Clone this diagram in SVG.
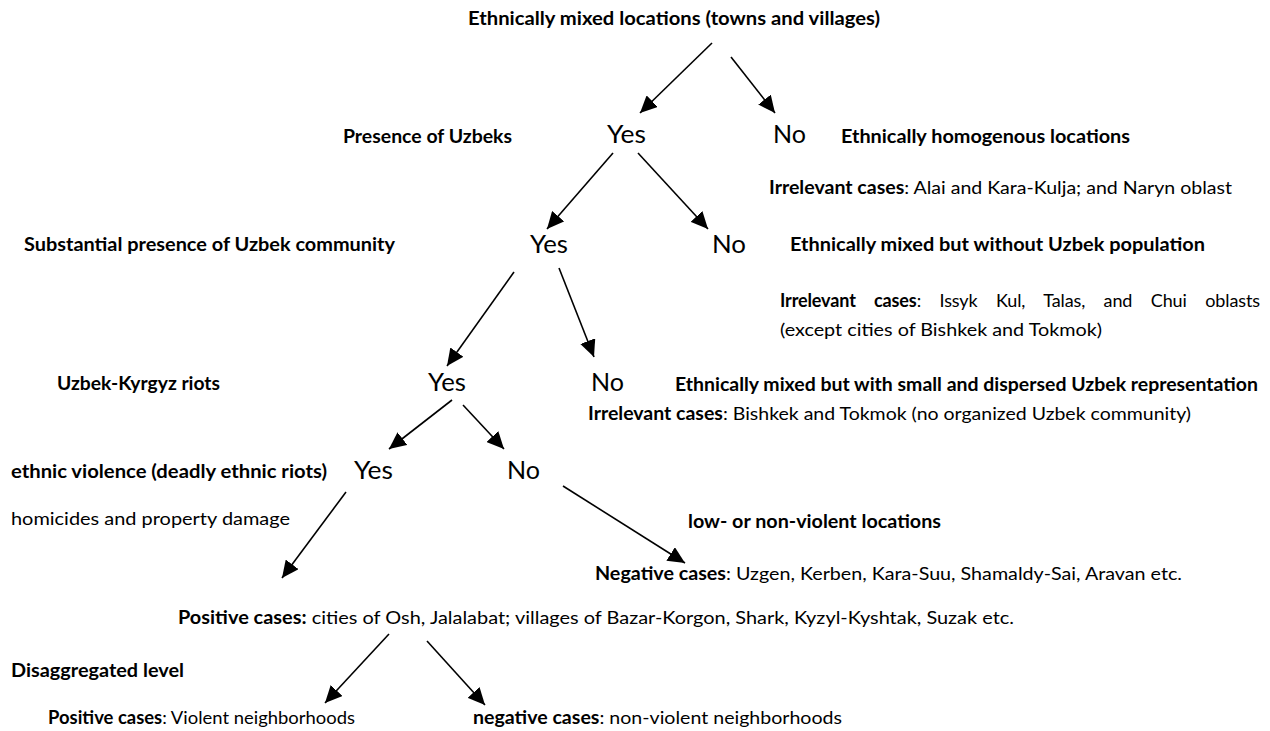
<svg xmlns="http://www.w3.org/2000/svg" width="1270" height="731" viewBox="0 0 1270 731">
<defs>
<marker id="ah" markerUnits="userSpaceOnUse" markerWidth="18" markerHeight="16" refX="17" refY="8" orient="auto">
<path d="M0,0 L17,8 L0,16 z" fill="#000"/>
</marker>
<style>
text{font-family:Lato,"Liberation Sans",sans-serif;fill:#000;font-size:18px}
.b{font-weight:bold}
.yn{font-size:25px}
.just{word-spacing:14px}
line{stroke:#000;stroke-width:1.6;marker-end:url(#ah)}
</style>
</defs>
<rect width="1270" height="731" fill="#fff"/>
<g id="connectors">
<line x1="712" y1="43" x2="640" y2="113"/>
<line x1="731" y1="57" x2="775" y2="113"/>
<line x1="613" y1="153" x2="547" y2="229"/>
<line x1="638" y1="153" x2="708" y2="229"/>
<line x1="514" y1="272" x2="447" y2="366"/>
<line x1="559" y1="268" x2="594" y2="357"/>
<line x1="452" y1="400" x2="389" y2="449"/>
<line x1="463" y1="405" x2="504" y2="449"/>
<line x1="563" y1="486" x2="685" y2="563"/>
<line x1="346" y1="492" x2="282" y2="578"/>
<line x1="389" y1="634" x2="325" y2="703"/>
<line x1="427" y1="641" x2="485" y2="705"/>
</g>
<g id="n-top"><text class="b" x="468" y="25" textLength="412" lengthAdjust="spacingAndGlyphs">Ethnically mixed locations (towns and villages)</text></g>
<g id="n-presence"><text class="b" x="343" y="143" textLength="169" lengthAdjust="spacingAndGlyphs">Presence of Uzbeks</text></g>
<g id="n-yes1"><text class="yn" x="607" y="143" textLength="39" lengthAdjust="spacingAndGlyphs">Yes</text></g>
<g id="n-no1"><text class="yn" x="773" y="143" textLength="33" lengthAdjust="spacingAndGlyphs">No</text></g>
<g id="n-homog"><text class="b" x="841" y="143" textLength="289" lengthAdjust="spacingAndGlyphs">Ethnically homogenous locations</text></g>
<g id="n-irr1"><text x="769" y="194" textLength="463" lengthAdjust="spacingAndGlyphs"><tspan class="b">Irrelevant cases</tspan>: Alai and Kara-Kulja; and Naryn oblast</text></g>
<g id="n-subst"><text class="b" x="24" y="251" textLength="371" lengthAdjust="spacingAndGlyphs">Substantial presence of Uzbek community</text></g>
<g id="n-yes2"><text class="yn" x="530" y="253" textLength="38" lengthAdjust="spacingAndGlyphs">Yes</text></g>
<g id="n-no2"><text class="yn" x="712" y="253" textLength="34" lengthAdjust="spacingAndGlyphs">No</text></g>
<g id="n-mixed1"><text class="b" x="790" y="251" textLength="415" lengthAdjust="spacingAndGlyphs">Ethnically mixed but without Uzbek population</text></g>
<g id="n-irr2">
<text class="just" x="780" y="307" textLength="480" lengthAdjust="spacing"><tspan class="b">Irrelevant cases</tspan>: Issyk Kul, Talas, and Chui oblasts</text>
<text x="780" y="336" textLength="322" lengthAdjust="spacingAndGlyphs">(except cities of Bishkek and Tokmok)</text>
</g>
<g id="n-riots"><text class="b" x="57" y="390" textLength="163" lengthAdjust="spacingAndGlyphs">Uzbek-Kyrgyz riots</text></g>
<g id="n-yes3"><text class="yn" x="428" y="391" textLength="38" lengthAdjust="spacingAndGlyphs">Yes</text></g>
<g id="n-no3"><text class="yn" x="591" y="391" textLength="33" lengthAdjust="spacingAndGlyphs">No</text></g>
<g id="n-mixed2"><text class="b" x="675" y="391" textLength="583" lengthAdjust="spacingAndGlyphs">Ethnically mixed but with small and dispersed Uzbek representation</text></g>
<g id="n-irr3"><text x="588" y="420" textLength="603" lengthAdjust="spacingAndGlyphs"><tspan class="b">Irrelevant cases</tspan>: Bishkek and Tokmok (no organized Uzbek community)</text></g>
<g id="n-violence"><text class="b" x="11" y="478" textLength="316" lengthAdjust="spacingAndGlyphs">ethnic violence (deadly ethnic riots)</text></g>
<g id="n-yes4"><text class="yn" x="354" y="479" textLength="39" lengthAdjust="spacingAndGlyphs">Yes</text></g>
<g id="n-no4"><text class="yn" x="507" y="479" textLength="33" lengthAdjust="spacingAndGlyphs">No</text></g>
<g id="n-homicides"><text x="11" y="525" textLength="279" lengthAdjust="spacingAndGlyphs">homicides and property damage</text></g>
<g id="n-lowviol"><text class="b" x="688" y="528" textLength="253" lengthAdjust="spacingAndGlyphs">low- or non-violent locations</text></g>
<g id="n-negative"><text x="595" y="580" textLength="587" lengthAdjust="spacingAndGlyphs"><tspan class="b">Negative cases</tspan>: Uzgen, Kerben, Kara-Suu, Shamaldy-Sai, Aravan etc.</text></g>
<g id="n-positive"><text x="178" y="624" textLength="836" lengthAdjust="spacingAndGlyphs"><tspan class="b">Positive cases:</tspan> cities of Osh, Jalalabat; villages of Bazar-Korgon, Shark, Kyzyl-Kyshtak, Suzak etc.</text></g>
<g id="n-disagg"><text class="b" x="11" y="677" textLength="173" lengthAdjust="spacingAndGlyphs">Disaggregated level</text></g>
<g id="n-posnb"><text x="48" y="724" textLength="307" lengthAdjust="spacingAndGlyphs"><tspan class="b">Positive cases</tspan>: Violent neighborhoods</text></g>
<g id="n-negnb"><text x="473" y="724" textLength="369" lengthAdjust="spacingAndGlyphs"><tspan class="b">negative cases</tspan>: non-violent neighborhoods</text></g>
</svg>
